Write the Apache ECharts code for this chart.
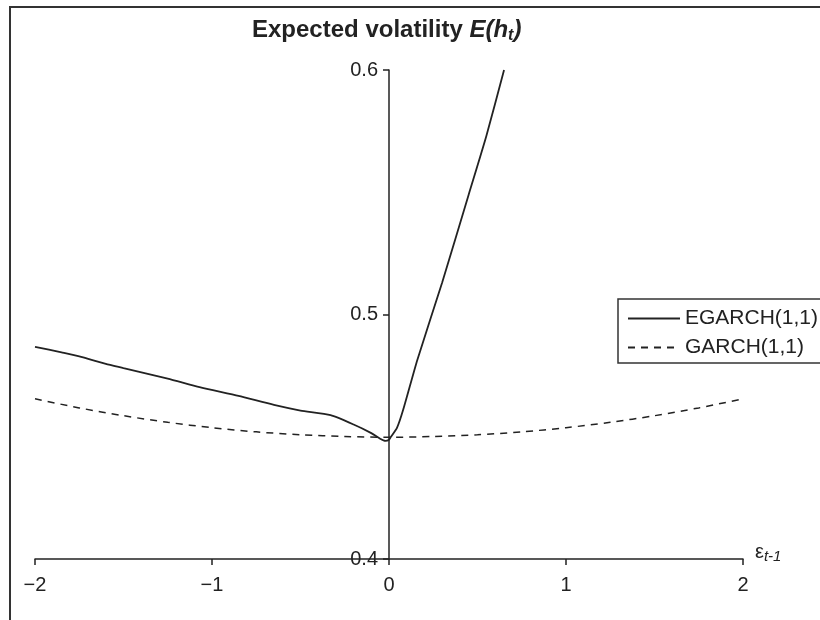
<!DOCTYPE html>
<html>
<head>
<meta charset="utf-8">
<script src="https://cdn.jsdelivr.net/npm/echarts@6/dist/echarts.min.js"></script>
<style>html,body{margin:0;padding:0;background:#fff}#c{width:820px;height:620px}</style>
</head>
<body>
<div id="c"></div>
<script>
// shock epsilon_{t-1}
const egarchX = [-2, -1.85, -1.75, -1.6, -1.5, -1.25, -1.07, -0.85, -0.65, -0.5, -0.33, -0.2, -0.1, -0.05, -0.02, 0, 0.01, 0.045, 0.08, 0.16, 0.3, 0.45, 0.55, 0.65];
const egarchY = [0.4868, 0.4845, 0.4829, 0.4798, 0.4781, 0.4738, 0.4703, 0.4667, 0.4630, 0.4607, 0.4588, 0.4550, 0.4515, 0.4492, 0.4483, 0.4488, 0.4499, 0.4536, 0.4610, 0.4814, 0.5130, 0.5490, 0.5730, 0.6000];
const garchX = [-2, -1.75, -1.5, -1.25, -1, -0.75, -0.5, -0.25, 0, 0.25, 0.5, 0.75, 1, 1.25, 1.5, 1.75, 2];
const garchY = [0.4655, 0.4618, 0.4586, 0.4559, 0.4537, 0.4520, 0.4508, 0.4501, 0.4498, 0.4501, 0.4508, 0.4520, 0.4537, 0.4559, 0.4586, 0.4618, 0.4655];
const xTicks = [-2, -1, 0, 1, 2];
const yTicks = [0.4, 0.5, 0.6];
const seriesNames = ['EGARCH(1,1)', 'GARCH(1,1)'];

const pairs = (xs, ys) => xs.map((x, i) => [x, ys[i]]);
const FONT = 'Liberation Sans';
const GRID_LEFT = 35, GRID_RIGHT = 77, W = 820;
// shift the y axis so it crosses the x axis at x = 0
const zeroOffset = -((W - GRID_LEFT - GRID_RIGHT) * (0 - xTicks[0]) / (xTicks[xTicks.length - 1] - xTicks[0]));

const chart = echarts.init(document.getElementById('c'));
chart.setOption({
  animation: false,
  backgroundColor: '#fff',
  textStyle: { fontFamily: FONT },
  title: {
    text: '{b|Expected volatility }{i|E(h}{s|t}{i|)}',
    left: 247, top: 11,
    textStyle: {
      rich: {
        b: { fontFamily: FONT, fontWeight: 'bold', fontSize: 24, color: '#222' },
        i: { fontFamily: FONT, fontWeight: 'bold', fontStyle: 'italic', fontSize: 24, color: '#222' },
        s: { fontFamily: FONT, fontWeight: 'bold', fontStyle: 'italic', fontSize: 16, color: '#222', verticalAlign: 'bottom', padding: [12, 0, 0, 0] }
      }
    }
  },
  grid: { left: GRID_LEFT, right: GRID_RIGHT, top: 70, bottom: 61, outerBoundsMode: 'none', containLabel: false },
  legend: {
    orient: 'vertical', left: 622, top: 303,
    itemWidth: 52, itemHeight: 10, itemGap: 8,
    itemStyle: { opacity: 0 },
    textStyle: { fontFamily: FONT, fontSize: 21, color: '#222' },
    data: seriesNames
  },
  xAxis: {
    type: 'value', min: -2, max: 2, interval: 1,
    splitLine: { show: false },
    axisLine: { onZero: false, lineStyle: { color: '#222', width: 1.5 } },
    axisTick: { show: true, length: 6, lineStyle: { color: '#222', width: 1.5 } },
    axisLabel: {
      color: '#222', fontSize: 20, margin: 16,
      formatter: v => xTicks.includes(v) ? String(v).replace('-', '\u2212') : ''
    },
    name: '{e|\u03b5}{s|t-1}',
    nameLocation: 'end', nameGap: 12,
    nameTextStyle: {
      padding: [0, 0, 14, 0],
      rich: {
        e: { fontFamily: FONT, fontSize: 20, color: '#222' },
        s: { fontFamily: FONT, fontStyle: 'italic', fontSize: 15, color: '#222', verticalAlign: 'bottom', padding: [10, 0, 0, 0] }
      }
    }
  },
  yAxis: {
    type: 'value', min: 0.4, max: 0.6, interval: 0.1,
    offset: zeroOffset,
    splitLine: { show: false },
    axisLine: { show: true, onZero: false, lineStyle: { color: '#222', width: 1.5 } },
    axisTick: { show: true, length: 6, lineStyle: { color: '#222', width: 1.5 } },
    axisLabel: {
      color: '#222', fontSize: 20, margin: 11,
      formatter: v => yTicks.some(t => Math.abs(t - v) < 1e-9) ? v.toFixed(1) : ''
    }
  },
  series: [
    {
      name: seriesNames[0], type: 'line', data: pairs(egarchX, egarchY),
      symbol: 'none', smooth: 0.2,
      lineStyle: { color: '#222', width: 1.8, type: 'solid' },
      itemStyle: { color: '#222' }
    },
    {
      name: seriesNames[1], type: 'line', data: pairs(garchX, garchY),
      symbol: 'none', smooth: 0.3,
      lineStyle: { color: '#222', width: 1.5, type: [7, 6] },
      itemStyle: { color: '#222' }
    }
  ],
  graphic: [
    { type: 'polyline', shape: { points: [[10, 620], [10, 7], [820, 7]] }, style: { stroke: '#333', lineWidth: 2, fill: null }, silent: true },
    { type: 'rect', shape: { x: 618, y: 299, width: 220, height: 64 }, style: { stroke: '#333', lineWidth: 1.5, fill: null }, silent: true }
  ]
});
</script>
</body>
</html>
